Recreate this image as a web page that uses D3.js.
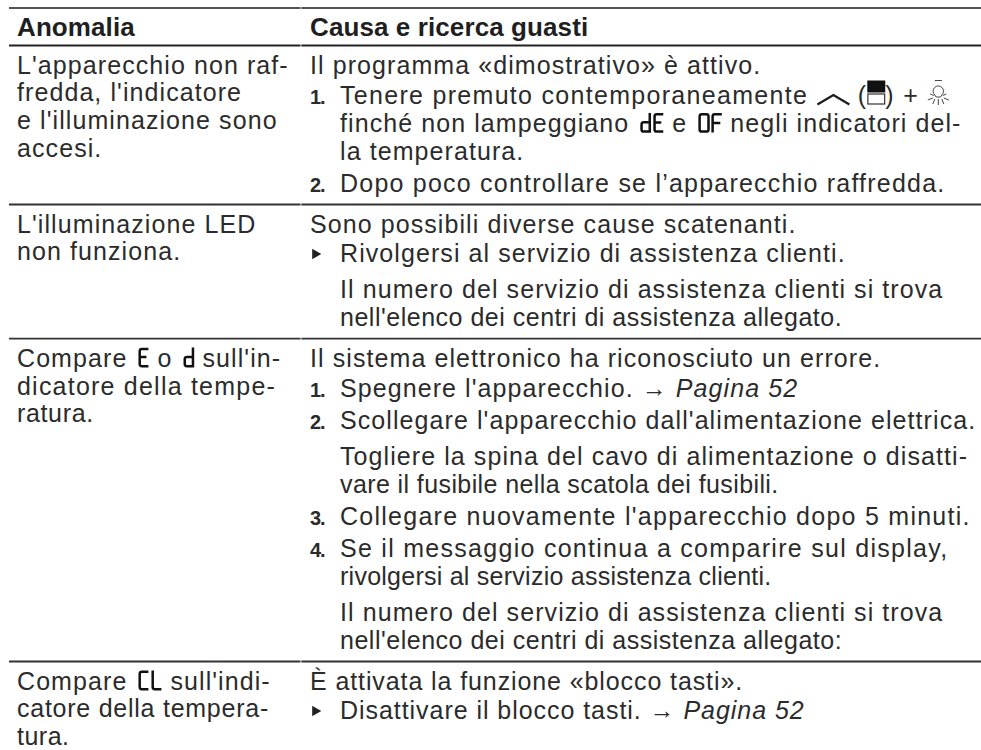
<!DOCTYPE html>
<html>
<head>
<meta charset="utf-8">
<script src="https://cdn.jsdelivr.net/npm/d3@7"></script>
<style>
html, body { margin: 0; padding: 0; background: #fff; }
svg { display: block; }
text { font-family: "Liberation Sans", Arial, sans-serif; fill: #2b2b2b; }
</style>
</head>
<body>
<svg id="chart" width="981" height="750"></svg>
<script>
// table content, one entry per printed line
var headers = ["Anomalia", "Causa e ricerca guasti"];

var anomaly_rows = [
    ["L'apparecchio non raf-", "fredda, l'indicatore", "e l'illuminazione sono", "accesi."],
    ["L'illuminazione LED", "non funziona."],
    ["Compare [[E]] o [[d]] sull'in-", "dicatore della tempe-", "ratura."],
    ["Compare [[CL]] sull'indi-", "catore della tempera-", "tura."]
];

// kinds: p = plain, n = numbered step, c = continuation, b = bullet, g = indented paragraph
var cause_rows = [
    [["p", "Il programma «dimostrativo» è attivo."],
     ["n", "1.", "Tenere premuto contemporaneamente [[up]] ([[door]]) + [[light]]"],
     ["c", "finché non lampeggiano [[dE]] e [[0F]] negli indicatori del-"],
     ["c", "la temperatura."],
     ["n", "2.", "Dopo poco controllare se l’apparecchio raffredda."]],
    [["p", "Sono possibili diverse cause scatenanti."],
     ["b", "Rivolgersi al servizio di assistenza clienti."],
     ["g", "Il numero del servizio di assistenza clienti si trova"],
     ["c", "nell'elenco dei centri di assistenza allegato."]],
    [["p", "Il sistema elettronico ha riconosciuto un errore."],
     ["n", "1.", "Spegnere l'apparecchio. → {{Pagina 52}}"],
     ["n", "2.", "Scollegare l'apparecchio dall'alimentazione elettrica."],
     ["g", "Togliere la spina del cavo di alimentazione o disatti-"],
     ["c", "vare il fusibile nella scatola dei fusibili."],
     ["n", "3.", "Collegare nuovamente l'apparecchio dopo 5 minuti."],
     ["n", "4.", "Se il messaggio continua a comparire sul display,"],
     ["c", "rivolgersi al servizio assistenza clienti."],
     ["g", "Il numero del servizio di assistenza clienti si trova"],
     ["c", "nell'elenco dei centri di assistenza allegato:"]],
    [["p", "È attivata la funzione «blocco tasti»."],
     ["b", "Disattivare il blocco tasti. → {{Pagina 52}}"]]
];

// seven segment letters used on the appliance display
var segments = {
    "E": "M10 1.3H3.5Q1.3 1.3 1.3 3.5V9.5H8M1.3 9.5V16.5Q1.3 18.7 3.5 18.7H10",
    "d": "M9.5 0V18.7H3.5Q1.3 18.7 1.3 16.5V11.5Q1.3 9.3 3.5 9.3H9.5",
    "C": "M10 1.3H3.5Q1.3 1.3 1.3 3.5V16.5Q1.3 18.7 3.5 18.7H10",
    "L": "M1.3 0V16.5Q1.3 18.7 3.5 18.7H10",
    "0": "M3.5 1.3H8Q10.2 1.3 10.2 3.5V16.5Q10.2 18.7 8 18.7H3.5Q1.3 18.7 1.3 16.5V3.5Q1.3 1.3 3.5 1.3Z",
    "F": "M10.5 1.3H3.5Q1.3 1.3 1.3 3.5V19.5M1.3 10H9"
};

var svg = d3.select("#chart");

var font_size = 25, tracking = 1.08;
var left_x = 17, right_x = 310, body_x = 340;
var rule_x = [9, 300.5, 981];

var gaps = { c: 27.9, b: 29.5, g: 36, after_p: 30.5, step: 32, to_rule: 12.7, from_rule: 28 };

// the print is set tighter or looser on some lines
var line_tracking = [
    ["vare il", 0.4], ["rivolgersi", 0.25], ["nell'elenco", 0.51],
    ["Collegare", 1.26], ["Se il", 1.28], ["Tenere", 1.3], ["Dopo", 1.22],
    ["È attivata", 0.9], ["Disattivare", 0.95], ["catore", 0.75],
    ["dicatore", 1.22], ["ratura", 0.65], ["tura", 0.5]
];

function tracking_for(str) {
    var hit = line_tracking.filter(function(d) { return str.indexOf(d[0]) == 0; });
    return hit.length ? hit[0][1] : tracking;
}

function draw_glyph(g, name, x, base) {
    var sel = g.append("g").attr("transform", "translate(" + x + "," + base + ")");
    if (name == "up") {
        sel.append("path").attr("d", "M1 0.5L17 -9L33 0.5").attr("fill", "none")
            .attr("stroke", "#1a1a1a").attr("stroke-width", 2.2);
        return 33;
    }
    if (name == "door") {
        sel.append("rect").attr("x", 0).attr("y", -23.5).attr("width", 18).attr("height", 12).attr("fill", "#111");
        sel.append("rect").attr("x", 0.6).attr("y", -10).attr("width", 16.8).attr("height", 10)
            .attr("fill", "none").attr("stroke", "#333").attr("stroke-width", 1.2);
        return 18;
    }
    if (name == "light") {
        sel.append("path")
            .attr("d", "M7.5 -23.5H14.5M7.5 -9A5.2 5.2 0 1 1 14.5 -9L13.2 -7H8.8ZM3 -10L6.5 -8.5M19 -10L15.5 -8.5M0.5 -4L5.5 -6M21.5 -4L16.5 -6M5.5 0L7.5 -5M16.5 0L14.5 -5M11 1V-5")
            .attr("fill", "none").attr("stroke", "#444").attr("stroke-width", 1);
        return 22;
    }
    // display letters, set with a little air before them
    var dx = 3;
    name.split("").forEach(function(ch) {
        sel.append("path").attr("d", segments[ch]).attr("transform", "translate(" + dx + ",-19)")
            .attr("fill", "none").attr("stroke", "#111").attr("stroke-width", 2.5);
        dx += 13;
    });
    return dx - 2;
}

// writes one line of text with inline glyphs and italics, left to right
function draw_line(str, x, base) {
    var g = svg.append("g");
    var spacing = tracking_for(str);
    var parts = str.split(/(\[\[.*?\]\]|\{\{.*?\}\})/);
    parts.forEach(function(part) {
        if (part == "") return;
        if (part.slice(0, 2) == "[[") {
            x += draw_glyph(g, part.slice(2, -2), x, base);
            return;
        }
        var italic = part.slice(0, 2) == "{{";
        var t = g.append("text")
            .attr("x", x).attr("y", base)
            .attr("font-size", font_size)
            .attr("letter-spacing", spacing)
            .attr("font-style", italic ? "italic" : "normal")
            .style("white-space", "pre")
            .text(italic ? part.slice(2, -2) : part);
        x += t.node().getComputedTextLength();
    });
}

function draw_rule(y, w, col) {
    svg.append("line").attr("x1", rule_x[0]).attr("x2", rule_x[1]).attr("y1", y).attr("y2", y)
        .attr("stroke", col).attr("stroke-width", w);
    svg.append("line").attr("x1", rule_x[1] + 0.8).attr("x2", rule_x[2]).attr("y1", y).attr("y2", y)
        .attr("stroke", col).attr("stroke-width", w);
}

// header
draw_rule(8, 2, "#555");
headers.forEach(function(h, i) {
    svg.append("text").attr("x", i == 0 ? left_x : right_x).attr("y", 36)
        .attr("font-size", 26).attr("letter-spacing", 0.1).attr("font-weight", "bold")
        .style("fill", "#1f1f1f").text(h);
});
draw_rule(45.5, 2, "#222");

// rows
var row_top = 45.5;
cause_rows.forEach(function(lines, r) {
    var first = row_top + gaps.from_rule;
    var y = first;
    lines.forEach(function(line, i) {
        if (i > 0) {
            if (line[0] == "n") y += lines[i - 1][0] == "p" ? gaps.after_p : gaps.step;
            else y += gaps[line[0]];
        }
        if (line[0] == "n") {
            svg.append("text").attr("x", right_x).attr("y", y)
                .attr("font-size", 20).attr("letter-spacing", -1).attr("font-weight", "bold").text(line[1]);
            draw_line(line[2], body_x, y);
        } else if (line[0] == "b") {
            svg.append("path").attr("d", d3.symbol(d3.symbolTriangle, 48)())
                .attr("transform", "translate(315.2," + (y - 8) + ") rotate(90)").attr("fill", "#222");
            draw_line(line[1], body_x, y);
        } else if (line[0] == "p") {
            draw_line(line[1], right_x, y);
        } else {
            draw_line(line[1], body_x, y);
        }
    });
    anomaly_rows[r].forEach(function(txt, i) {
        draw_line(txt, left_x, first + i * gaps.c);
    });
    if (r < cause_rows.length - 1) {
        row_top = y + gaps.to_rule;
        draw_rule(row_top, 1.8, "#333");
    }
});
</script>
</body>
</html>
